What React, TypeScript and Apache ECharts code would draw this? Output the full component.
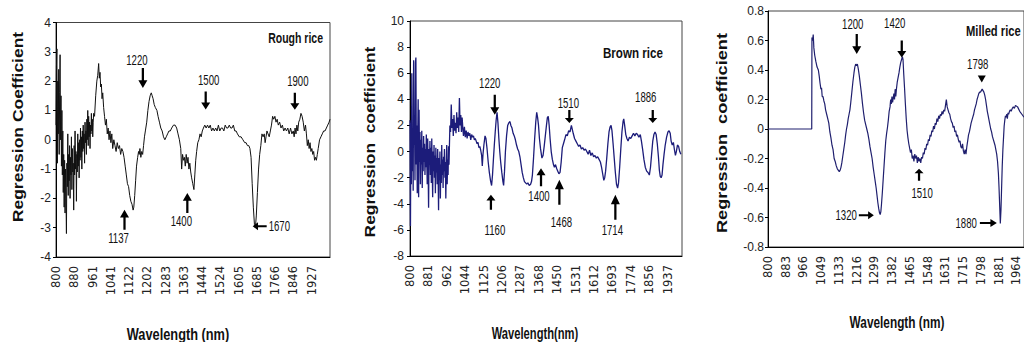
import React, { useEffect, useRef } from "react";
import * as echarts from "echarts";

// ---------- DATA ----------
const roughTicks = [800, 880, 961, 1041, 1122, 1202, 1283, 1363, 1444, 1524, 1605, 1685, 1766, 1846, 1927];
const brownTicks = [800, 881, 962, 1044, 1125, 1206, 1287, 1368, 1450, 1531, 1612, 1693, 1774, 1856, 1937];
const milledTicks = [800, 883, 966, 1049, 1133, 1216, 1299, 1382, 1465, 1548, 1631, 1715, 1798, 1881, 1964];

const roughRice: [number, number][] = [[800,0.5],[802,2.5],[804,3.1],[806,-0.8],[808,2.0],[810,0.2],[812,2.4],[814,-0.5],[816,1.6],[818,2.9],[820,0.0],[822,1.5],[824,-0.9],[826,1.0],[828,-1.2],[830,0.3],[832,-1.8],[834,-0.5],[836,-2.3],[838,-0.7],[840,-2.5],[842,-1.0],[844,-2.0],[846,-3.2],[848,-0.8],[850,-1.6],[852,0.2],[854,-1.9],[856,-0.5],[858,-1.4],[860,-0.2],[862,-2.0],[864,-0.6],[866,-1.2],[868,0.1],[870,-1.7],[872,-0.3],[874,-1.1],[876,-0.8],[878,-2.4],[880,-0.2],[882,-1.2],[884,0.3],[886,-1.0],[888,-0.4],[890,-2.1],[892,-0.5],[894,-1.1],[896,0.2],[898,-0.9],[900,-0.1],[902,-1.3],[904,0.0],[906,-0.7],[908,0.4],[910,-0.6],[912,0.1],[914,-1.0],[916,0.3],[918,-0.4],[920,0.5],[922,-0.3],[924,0.2],[926,-0.8],[928,0.6],[930,-0.1],[932,0.3],[934,-0.5],[936,0.7],[938,0.0],[940,1.0],[942,-0.2],[944,0.8],[946,0.1],[948,0.6],[950,-0.3],[952,0.5],[954,0.2],[956,0.9],[958,0.3],[960,0.7],[962,0.1],[964,0.6],[966,0.9],[970,0.8],[975,1.5],[980,2.0],[984,2.2],[988,2.6],[991,2.1],[994,2.3],[997,1.8],[1000,1.9],[1003,1.4],[1006,1.6],[1010,1.1],[1014,0.8],[1018,0.5],[1022,0.7],[1026,0.2],[1030,0.4],[1034,0.0],[1038,0.3],[1042,-0.1],[1046,0.2],[1050,-0.3],[1055,0.0],[1060,-0.2],[1065,-0.4],[1070,-0.1],[1075,-0.3],[1080,-0.2],[1085,-0.5],[1090,-0.3],[1095,-0.4],[1100,-0.6],[1105,-0.9],[1110,-1.2],[1115,-1.5],[1120,-1.6],[1125,-1.9],[1130,-2.1],[1135,-2.2],[1140,-2.4],[1143,-2.3],[1147,-1.9],[1151,-1.4],[1155,-0.9],[1160,-0.6],[1164,-0.4],[1167,-0.5],[1170,-0.3],[1174,-0.6],[1178,-0.4],[1182,-0.5],[1186,-0.2],[1190,0.1],[1194,0.3],[1200,0.6],[1205,1.0],[1210,1.3],[1215,1.5],[1220,1.6],[1224,1.5],[1228,1.4],[1233,1.2],[1238,1.1],[1245,1.0],[1250,0.8],[1256,0.6],[1262,0.4],[1268,0.3],[1274,0.1],[1280,0.0],[1286,0.1],[1292,0.2],[1298,0.3],[1304,0.3],[1310,0.4],[1318,0.5],[1325,0.5],[1332,0.4],[1338,0.2],[1344,0.0],[1350,-0.3],[1354,-1.0],[1358,-0.5],[1362,-0.7],[1366,-0.6],[1370,-0.9],[1374,-0.5],[1378,-0.8],[1382,-0.6],[1386,-1.0],[1390,-0.8],[1394,-1.1],[1398,-1.3],[1403,-1.5],[1408,-1.7],[1412,-1.2],[1416,-0.7],[1420,-0.4],[1425,-0.1],[1430,0.0],[1435,0.2],[1440,0.1],[1445,0.3],[1450,0.4],[1456,0.5],[1462,0.4],[1468,0.5],[1474,0.4],[1480,0.5],[1486,0.3],[1492,0.4],[1498,0.3],[1504,0.4],[1510,0.3],[1516,0.5],[1522,0.3],[1528,0.4],[1534,0.4],[1540,0.3],[1546,0.5],[1552,0.4],[1558,0.4],[1564,0.5],[1570,0.4],[1576,0.4],[1582,0.5],[1588,0.3],[1594,0.3],[1600,0.2],[1608,0.1],[1616,0.1],[1624,0.0],[1632,-0.1],[1638,-0.1],[1644,-0.2],[1650,-0.2],[1655,-0.3],[1660,-0.6],[1665,-1.5],[1670,-2.3],[1675,-2.9],[1679,-3.0],[1683,-2.6],[1688,-1.8],[1693,-1.0],[1698,-0.5],[1703,-0.2],[1708,0.2],[1713,0.1],[1718,0.2],[1722,-0.1],[1726,0.1],[1730,0.3],[1735,0.2],[1740,0.1],[1745,0.3],[1750,0.5],[1755,0.8],[1760,0.7],[1765,0.8],[1770,0.6],[1775,0.7],[1780,0.5],[1786,0.6],[1792,0.4],[1798,0.5],[1804,0.3],[1810,0.4],[1816,0.3],[1822,0.4],[1828,0.2],[1834,0.4],[1840,0.2],[1846,0.3],[1850,0.1],[1854,0.4],[1858,0.2],[1862,0.5],[1866,0.3],[1870,0.6],[1875,0.7],[1880,0.9],[1885,0.8],[1890,0.6],[1895,0.3],[1900,0.5],[1904,0.2],[1908,-0.2],[1912,0.0],[1916,-0.3],[1920,-0.1],[1924,-0.4],[1928,-0.3],[1932,-0.5],[1936,-0.4],[1940,-0.7],[1944,-0.6],[1948,-0.7],[1952,-0.5],[1956,-0.3],[1962,0.0],[1968,0.1],[1974,0.2],[1980,0.3],[1986,0.3],[1992,0.4],[1998,0.5],[2004,0.6],[2008,0.7]];

const brownRice: [number, number][] = [[800,2.4],[802,-5.7],[804,2.2],[806,-2.5],[808,6.0],[810,-1.5],[812,1.8],[814,-3.0],[816,7.0],[818,0.5],[820,2.5],[822,-2.2],[824,6.8],[826,7.2],[828,-1.0],[830,2.0],[832,-3.2],[834,1.0],[836,4.0],[838,-3.5],[840,3.2],[842,-0.8],[844,1.5],[846,-2.5],[848,0.9],[850,-1.0],[852,1.6],[854,-2.8],[856,0.3],[858,-1.5],[860,1.2],[862,-0.8],[864,0.6],[866,-1.8],[868,0.2],[870,-1.2],[872,1.3],[874,-0.5],[876,-2.5],[878,1.0],[880,-1.4],[882,-4.3],[884,0.2],[886,-1.0],[888,0.8],[890,-1.8],[892,0.3],[894,-2.4],[896,1.0],[898,-1.2],[900,-3.5],[902,0.0],[904,-1.5],[906,0.5],[908,-2.0],[910,-0.3],[912,-3.2],[914,0.3],[916,-1.6],[918,-0.5],[920,-2.5],[922,0.2],[924,-1.8],[926,-4.5],[928,-0.5],[930,-2.2],[932,0.0],[934,-3.6],[936,-1.0],[938,-2.4],[940,0.5],[942,-1.8],[944,-0.6],[946,-2.8],[948,-0.4],[950,-1.5],[952,0.2],[954,-2.0],[956,-0.8],[958,-3.6],[960,-1.2],[962,0.5],[964,-2.5],[966,-0.6],[968,-1.8],[970,0.4],[972,-1.0],[974,0.5],[976,2.0],[979,1.5],[982,3.6],[985,1.8],[988,2.5],[991,1.2],[994,2.8],[997,1.6],[1000,2.2],[1003,1.4],[1006,3.0],[1009,1.8],[1012,2.6],[1015,1.5],[1018,4.1],[1021,2.0],[1024,2.8],[1027,1.5],[1030,2.6],[1033,1.8],[1036,1.2],[1040,1.9],[1044,1.1],[1048,1.6],[1052,1.0],[1056,1.5],[1060,1.2],[1064,1.4],[1068,0.9],[1072,1.3],[1076,1.1],[1080,1.2],[1084,0.9],[1088,1.0],[1092,0.8],[1096,0.6],[1100,0.7],[1104,0.3],[1108,0.4],[1112,0.1],[1116,-0.3],[1119,-1.1],[1122,-0.2],[1126,0.5],[1131,1.2],[1135,1.0],[1140,0.2],[1145,-0.8],[1150,-1.6],[1155,-2.2],[1160,-2.6],[1164,-1.8],[1168,-0.6],[1172,0.5],[1176,1.5],[1180,2.4],[1184,3.0],[1188,2.2],[1192,1.0],[1196,0.0],[1200,-0.8],[1205,-1.6],[1210,-2.3],[1213,-2.6],[1217,-1.5],[1221,0.0],[1226,1.2],[1231,2.0],[1236,2.2],[1241,2.3],[1245,2.0],[1250,1.8],[1255,1.4],[1260,1.2],[1265,0.9],[1270,0.5],[1275,0.2],[1280,0.0],[1285,-0.4],[1290,-1.0],[1295,-1.6],[1300,-2.0],[1305,-2.3],[1310,-2.4],[1315,-2.5],[1320,-2.4],[1326,-2.6],[1332,-2.5],[1336,-2.3],[1340,-1.8],[1345,-0.5],[1350,1.0],[1355,2.3],[1359,3.0],[1363,2.6],[1367,2.0],[1371,1.0],[1376,0.2],[1382,-0.5],[1387,-0.3],[1392,0.4],[1397,1.2],[1402,2.0],[1406,2.6],[1410,2.7],[1414,2.0],[1418,1.0],[1423,0.0],[1428,-0.6],[1433,-1.0],[1437,-1.2],[1442,-1.0],[1447,-1.3],[1452,-1.5],[1457,-1.7],[1462,-1.6],[1467,-0.8],[1472,0.3],[1477,0.6],[1482,0.9],[1488,1.3],[1494,1.2],[1500,1.6],[1506,1.5],[1512,2.0],[1516,1.7],[1520,1.4],[1526,1.0],[1532,0.8],[1538,0.6],[1544,0.4],[1550,0.5],[1556,0.2],[1562,0.3],[1568,0.1],[1574,0.2],[1580,0.0],[1586,-0.2],[1592,0.1],[1598,-0.3],[1604,-0.1],[1610,-0.4],[1616,-0.3],[1622,-0.5],[1628,-0.4],[1634,-0.6],[1640,-0.8],[1645,-1.2],[1650,-1.7],[1655,-2.2],[1659,-2.0],[1663,-1.5],[1668,-0.5],[1673,0.6],[1678,1.5],[1683,1.9],[1687,2.0],[1691,1.6],[1696,0.6],[1701,-0.5],[1706,-1.6],[1711,-2.5],[1716,-2.8],[1720,-2.4],[1725,-1.2],[1730,0.2],[1735,1.5],[1740,2.3],[1743,2.5],[1747,2.0],[1752,1.3],[1757,1.0],[1762,0.8],[1768,1.1],[1774,1.0],[1780,1.2],[1786,1.4],[1792,1.2],[1798,1.4],[1804,1.3],[1810,1.1],[1816,1.3],[1821,0.8],[1826,0.2],[1832,-0.6],[1838,-1.2],[1844,-1.5],[1850,-1.6],[1856,-1.8],[1861,-1.2],[1866,-0.2],[1871,0.8],[1876,1.3],[1881,1.5],[1886,1.3],[1891,0.6],[1896,-0.4],[1900,-1.4],[1904,-1.9],[1908,-2.0],[1912,-1.8],[1916,-1.0],[1921,-0.2],[1926,0.5],[1932,1.1],[1938,1.5],[1943,1.6],[1948,1.4],[1952,0.8],[1957,0.5],[1962,0.7],[1967,0.1],[1971,-0.3],[1975,0.0],[1980,0.5],[1985,0.4],[1990,0.0],[1995,-0.2]];

const milledRice: [number, number][] = [[800,0],[850,0],[900,0],[950,0],[1005,0],[1006,0.62],[1009,0.6],[1012,0.64],[1015,0.55],[1019,0.5],[1024,0.46],[1030,0.42],[1036,0.4],[1040,0.36],[1044,0.31],[1048,0.27],[1051,0.28],[1054,0.22],[1058,0.22],[1062,0.19],[1066,0.17],[1070,0.13],[1075,0.1],[1080,0.07],[1085,0.04],[1090,-0.02],[1095,-0.06],[1100,-0.11],[1105,-0.14],[1110,-0.2],[1115,-0.22],[1120,-0.25],[1125,-0.27],[1130,-0.28],[1134,-0.29],[1138,-0.28],[1142,-0.26],[1146,-0.23],[1150,-0.19],[1155,-0.14],[1160,-0.09],[1164,-0.04],[1168,0.0],[1172,0.03],[1176,0.07],[1180,0.1],[1184,0.13],[1188,0.18],[1193,0.25],[1198,0.32],[1203,0.38],[1207,0.42],[1211,0.44],[1215,0.43],[1219,0.44],[1223,0.41],[1228,0.36],[1233,0.3],[1238,0.24],[1243,0.17],[1248,0.11],[1253,0.06],[1258,0.03],[1263,0.0],[1268,-0.03],[1273,-0.07],[1278,-0.12],[1283,-0.16],[1288,-0.2],[1293,-0.26],[1298,-0.31],[1303,-0.36],[1307,-0.4],[1311,-0.45],[1315,-0.5],[1319,-0.54],[1323,-0.57],[1326,-0.58],[1329,-0.56],[1332,-0.51],[1336,-0.43],[1340,-0.34],[1344,-0.25],[1348,-0.16],[1352,-0.08],[1356,-0.03],[1360,0.01],[1364,0.06],[1368,0.12],[1372,0.15],[1375,0.2],[1378,0.17],[1381,0.22],[1384,0.18],[1387,0.21],[1390,0.24],[1393,0.2],[1396,0.27],[1399,0.22],[1402,0.27],[1406,0.32],[1410,0.35],[1414,0.38],[1418,0.42],[1422,0.45],[1426,0.47],[1430,0.49],[1433,0.47],[1436,0.38],[1440,0.28],[1444,0.17],[1448,0.07],[1452,-0.01],[1456,-0.06],[1460,-0.1],[1464,-0.13],[1468,-0.16],[1472,-0.14],[1476,-0.2],[1480,-0.18],[1484,-0.22],[1488,-0.17],[1492,-0.2],[1496,-0.18],[1500,-0.23],[1504,-0.19],[1508,-0.22],[1512,-0.2],[1516,-0.23],[1520,-0.19],[1524,-0.2],[1528,-0.16],[1532,-0.17],[1536,-0.13],[1540,-0.14],[1544,-0.1],[1548,-0.11],[1552,-0.07],[1556,-0.08],[1560,-0.04],[1564,-0.05],[1568,-0.01],[1572,-0.02],[1576,0.02],[1580,0.0],[1584,0.04],[1588,0.03],[1592,0.07],[1596,0.05],[1600,0.09],[1604,0.07],[1608,0.1],[1612,0.09],[1616,0.12],[1620,0.1],[1624,0.13],[1628,0.12],[1632,0.16],[1636,0.2],[1640,0.15],[1644,0.13],[1648,0.11],[1652,0.1],[1656,0.07],[1660,0.05],[1664,0.04],[1668,0.01],[1672,0.02],[1676,-0.02],[1680,-0.01],[1684,-0.05],[1688,-0.04],[1692,-0.07],[1696,-0.09],[1700,-0.08],[1704,-0.12],[1708,-0.13],[1712,-0.1],[1716,-0.15],[1720,-0.17],[1724,-0.14],[1728,-0.17],[1732,-0.12],[1736,-0.08],[1740,-0.04],[1744,-0.02],[1748,0.01],[1752,0.04],[1756,0.06],[1760,0.08],[1764,0.1],[1768,0.13],[1772,0.15],[1776,0.17],[1780,0.2],[1784,0.22],[1788,0.24],[1792,0.25],[1796,0.25],[1800,0.26],[1804,0.27],[1808,0.26],[1812,0.25],[1816,0.23],[1820,0.2],[1824,0.16],[1828,0.12],[1832,0.09],[1836,0.06],[1840,0.03],[1844,0.0],[1848,-0.02],[1852,-0.05],[1856,-0.07],[1860,-0.09],[1864,-0.11],[1868,-0.14],[1872,-0.17],[1876,-0.22],[1880,-0.3],[1883,-0.4],[1886,-0.52],[1889,-0.64],[1892,-0.55],[1895,-0.4],[1898,-0.25],[1901,-0.14],[1904,-0.06],[1907,0.02],[1910,0.06],[1913,0.09],[1916,0.08],[1919,0.1],[1922,0.07],[1925,0.11],[1928,0.1],[1932,0.12],[1936,0.13],[1940,0.12],[1945,0.14],[1950,0.15],[1955,0.14],[1960,0.16],[1970,0.15],[1980,0.12],[1990,0.1],[2000,0.08]];

// annotations: [label, wavelength, value, arrow direction]
const roughNotes: [string, number, number, string][] = [
  ["1220", 1183, 2.11, "down"], ["1500", 1460, 1.34, "down"], ["1900", 1853, 1.31, "down"],
  ["1137", 1102, -2.73, "up"], ["1400", 1379, -2.16, "up"], ["1670", 1698, -2.95, "left"],
];
const brownNotes: [string, number, number, string][] = [
  ["1220", 1174, 3.58, "down"], ["1510", 1503, 2.69, "down"], ["1886", 1871, 2.69, "down"],
  ["1160", 1157, -3.89, "up"], ["1400", 1378, -1.97, "up"], ["1468", 1459, -3.12, "up"], ["1714", 1706, -4.27, "up"],
];
const milledNotes: [string, number, number, string][] = [
  ["1200", 1216, 0.577, "down"], ["1420", 1427, 0.543, "down"], ["1798", 1802, 0.339, "tri"],
  ["1510", 1508, -0.31, "up"], ["1320", 1261, -0.584, "right"], ["1880", 1833, -0.638, "right"],
];

// ---------- LAYOUT / STYLE ----------
// [arrow length, label gap, label dx]
const roughNoteLayout = [[20, 2, -6], [18, 5, 3], [17, 6, 3], [20, 2, -6], [20, 2, -6], [14, 2, 0]];
const brownNoteLayout = [[20, 6, -5], [13, 1, -1], [13, 7, -7], [15, 14, 4], [18, 4, -2], [25, 11, 2], [25, 4, -3]];
const milledNoteLayout = [[20, 4, -4], [17, 11, -7], [7, 5, -4], [12, 7, 3], [15, 2, 0], [17, 3, 0]];

const SANS = '"Liberation Sans", Arial, Helvetica, sans-serif';
const WIDE = '"DejaVu Sans", "Liberation Sans", Arial, sans-serif';

const PATHS: Record<string, string> = {
  down: "path://M3,0 L5,0 L5,13 L8,13 L4,21 L0,13 L3,13 Z",
  up: "path://M4,0 L8,8 L5,8 L5,21 L3,21 L3,8 L0,8 Z",
  left: "path://M0,4 L8,0 L8,3 L21,3 L21,5 L8,5 L8,8 Z",
  right: "path://M21,4 L13,0 L13,3 L0,3 L0,5 L13,5 L13,8 Z",
  tri: "path://M0,0 L8,0 L4,7 Z",
};

function buildArrows(notes: [string, number, number, string][], layout: number[][]) {
  return notes.map((n, i) => {
    const len = layout[i][0];
    const horiz = n[3] === "left" || n[3] === "right";
    return {
      name: n[0],
      coord: [n[1], n[2]],
      symbol: PATHS[n[3]],
      symbolSize: n[3] === "tri" ? [8, len] : horiz ? [len, 8] : [9, len],
      symbolKeepAspect: false,
      itemStyle: { color: "#000" },
      label: { show: false },
    };
  });
}

function xAxisFor(gridIndex: number, max: number, ticks: number[]) {
  return {
    type: "value",
    gridIndex,
    min: 800,
    max,
    axisLine: { show: true, onZero: false, lineStyle: { color: "#000", width: 1 } },
    axisTick: { show: false },
    splitLine: { show: false },
    axisLabel: {
      customValues: ticks,
      rotate: 90,
      margin: 9,
      color: "#222",
      fontSize: 11.5,
      fontFamily: WIDE,
      formatter: (v: number) => String(Math.round(v)),
    },
  };
}

function yAxisFor(gridIndex: number, min: number, max: number, interval: number, margin: number) {
  return {
    type: "value",
    gridIndex,
    min,
    max,
    interval,
    axisLine: { show: true, lineStyle: { color: "#000", width: 1 } },
    axisTick: { show: true, length: 3, lineStyle: { color: "#000" } },
    splitLine: { show: false },
    axisLabel: { margin, color: "#222", fontSize: 12, fontFamily: SANS },
  };
}

function lineSeries(idx: number, data: [number, number][], color: string, width: number, arrows: any[]) {
  return {
    type: "line",
    xAxisIndex: idx,
    yAxisIndex: idx,
    data,
    showSymbol: false,
    symbol: "none",
    lineStyle: { color, width },
    silent: true,
    markPoint: { silent: true, animation: false, data: arrows },
  };
}

function txt(text: string, x: number, y: number, font: string, scaleX: number, opts: any = {}) {
  return {
    type: "text",
    x,
    y,
    rotation: opts.rotation || 0,
    scaleX,
    scaleY: 1,
    silent: true,
    z: 10,
    style: {
      text,
      fill: "#111",
      font,
      textAlign: opts.align || "center",
      textVerticalAlign: "middle",
    },
  };
}

export default function App() {
  const ref = useRef<HTMLDivElement>(null);
  useEffect(() => {
    if (!ref.current) return;
    const chart = echarts.init(ref.current, undefined, { renderer: "svg" });
    const gridStyle = { show: true, borderColor: "#444", borderWidth: 1, backgroundColor: "transparent" };
    chart.setOption({
      animation: false,
      backgroundColor: "#fff",
      grid: [
        { ...gridStyle, left: 56, top: 22.5, width: 274, height: 234.5 },
        { ...gridStyle, left: 410, top: 21, width: 272, height: 235 },
        { ...gridStyle, left: 768, top: 11, width: 265, height: 236 },
      ],
      xAxis: [
        xAxisFor(0, 2008, roughTicks),
        xAxisFor(1, 2000, brownTicks),
        xAxisFor(2, 2000, milledTicks),
      ],
      yAxis: [
        yAxisFor(0, -4, 4, 1, 5),
        yAxisFor(1, -8, 10, 2, 6),
        yAxisFor(2, -0.8, 0.8, 0.2, 4),
      ],
      series: [
        lineSeries(0, roughRice, "#111111", 1, buildArrows(roughNotes, roughNoteLayout)),
        lineSeries(1, brownRice, "#1c1c7a", 1.3, buildArrows(brownNotes, brownNoteLayout)),
        lineSeries(2, milledRice, "#1f1f6e", 1.2, buildArrows(milledNotes, milledNoteLayout)),
      ],
    });

    // annotation texts placed next to their arrows through the axes' own scales
    const noteFont = `15px ${SANS}`;
    const noteTexts: any[] = [];
    const addNotes = (g: number, notes: [string, number, number, string][], layout: number[][]) => {
      notes.forEach((n, i) => {
        const [len, gap, dx] = layout[i];
        const p = chart.convertToPixel({ gridIndex: g } as any, [n[1], n[2]]) as number[];
        if (!p) return;
        const half = 6;
        if (n[3] === "down" || n[3] === "tri") {
          noteTexts.push(txt(n[0], p[0] + dx, p[1] - len / 2 - gap - half, noteFont, 0.64));
        } else if (n[3] === "up") {
          noteTexts.push(txt(n[0], p[0] + dx, p[1] + len / 2 + gap + half, noteFont, 0.64));
        } else if (n[3] === "left") {
          noteTexts.push(txt(n[0], p[0] + len / 2 + gap, p[1], noteFont, 0.64, { align: "left" }));
        } else {
          noteTexts.push(txt(n[0], p[0] - len / 2 - gap, p[1], noteFont, 0.64, { align: "right" }));
        }
      });
    };
    addNotes(0, roughNotes, roughNoteLayout);
    addNotes(1, brownNotes, brownNoteLayout);
    addNotes(2, milledNotes, milledNoteLayout);

    const yTitleFont = `bold 14px ${SANS}`;
    chart.setOption({
      graphic: [
        txt("Regression Coefficient", 18, 127, yTitleFont, 1.25, { rotation: Math.PI / 2 }),
        txt("Regression  coefficient", 370, 142, yTitleFont, 1.24, { rotation: Math.PI / 2 }),
        txt("Regression  coefficient", 722, 133, yTitleFont, 1.3, { rotation: Math.PI / 2 }),
        txt("Wavelength (nm)", 178, 334, `bold 16px ${SANS}`, 0.8),
        txt("Wavelength(nm)", 535, 333, `bold 16px ${SANS}`, 0.7),
        txt("Wavelength (nm)", 897, 322, `bold 16px ${SANS}`, 0.74),
        txt("Rough rice", 323, 38, `bold 14px ${SANS}`, 0.75, { align: "right" }),
        txt("Brown rice", 663, 53, `bold 14px ${SANS}`, 0.83, { align: "right" }),
        txt("Milled rice", 966, 32, `bold 14px ${SANS}`, 0.8, { align: "left" }),
        ...noteTexts,
      ],
    });
    return () => chart.dispose();
  }, []);
  return <div ref={ref} style={{ position: "absolute", left: 0, top: 0, width: 1024, height: 342 }} />;
}
